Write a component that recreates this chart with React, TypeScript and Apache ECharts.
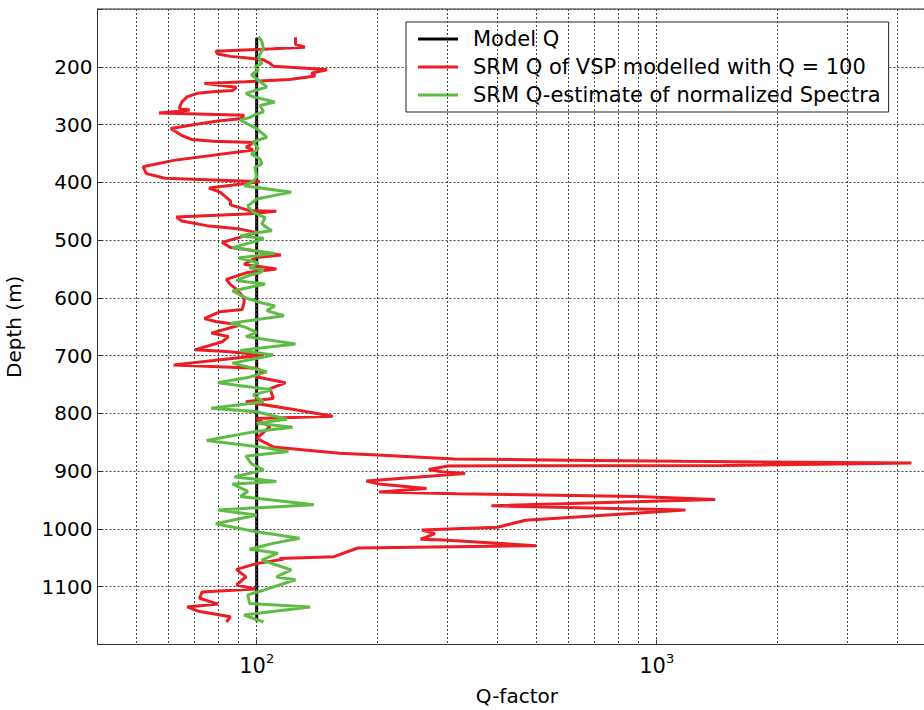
import React, { useEffect, useRef } from "react";
import * as echarts from "echarts";

const FONT = "DejaVu Sans";

const seriesNames = [
  "Model Q",
  "SRM Q of VSP modelled with Q = 100",
  "SRM Q-estimate of normalized Spectra",
];

const modelQ = [100, 100];
const modelDepth = [150, 1160];

const redQ = [
  125, 125, 132, 110, 79, 80, 86, 95, 104, 108,
  110, 136, 150, 137, 140, 121, 94, 74, 86, 89,
  87, 79, 71, 67, 65, 64, 68, 64, 57, 93,
  91, 80, 70, 61, 63, 65, 69, 78, 98, 96,
  94, 98, 62, 52, 53, 59, 102, 76, 81, 86,
  86, 96, 112, 94, 63, 65, 75, 91, 100, 82,
  86, 93, 115, 100, 93, 112, 95, 84, 86, 89,
  93, 93, 92, 81, 74, 79, 91, 77, 85, 82,
  70, 84, 104, 62, 100, 104, 99, 118, 108, 110,
  94, 126, 155, 100, 108, 100, 110, 161, 200, 312,
  604, 1150, 4335, 1469, 301, 269, 290, 332, 188, 202,
  266, 202, 316, 895, 1400, 386, 1180, 470, 400, 259,
  279, 257, 293, 500, 179, 156, 114, 117, 100, 89,
  94, 89, 99, 73, 72, 80, 67, 72, 86, 84,
];
const redDepth = [
  149, 161, 166, 169, 173, 178, 182, 185, 188, 194,
  199, 203, 205, 211, 216, 222, 226, 229, 234, 236,
  241, 243, 246, 252, 261, 272, 275, 277, 280, 284,
  290, 294, 300, 307, 313, 319, 326, 329, 331, 336,
  339, 344, 362, 373, 385, 393, 399, 410, 417, 432,
  439, 449, 450, 455, 460, 467, 475, 481, 487, 504,
  513, 516, 526, 530, 542, 550, 556, 568, 577, 585,
  600, 608, 620, 624, 636, 641, 647, 661, 667, 676,
  690, 693, 699, 716, 722, 728, 736, 747, 757, 774,
  780, 794, 805, 809, 823, 843, 858, 869, 872, 879,
  881, 883, 886, 890, 891, 897, 901, 904, 917, 922,
  930, 936, 939, 944, 949, 960, 967, 985, 997, 1002,
  1008, 1018, 1019, 1029, 1033, 1048, 1051, 1052, 1060, 1070,
  1083, 1097, 1104, 1109, 1120, 1130, 1135, 1143, 1152, 1161,
];

const greenQ = [
  101, 103, 104, 101, 103, 99, 101, 97, 101, 106,
  94, 98, 111, 102, 104, 99, 96, 91, 95, 100,
  106, 98, 101, 97, 102, 103, 99, 100, 98, 93,
  122, 100, 95, 98, 105, 103, 109, 98, 91, 104,
  101, 87, 111, 90, 101, 96, 104, 102, 95, 89,
  105, 87, 94, 102, 111, 106, 117, 86, 94, 100,
  94, 125, 91, 110, 87, 106, 95, 80, 109, 98,
  104, 77, 100, 119, 100, 123, 98, 75, 102, 120,
  94, 97, 104, 88, 112, 87, 95, 91, 139, 80,
  100, 79, 100, 128, 110, 96, 113, 103, 122, 112,
  125, 104, 95, 96, 136, 93, 100, 104,
];
const greenDepth = [
  148, 156, 168, 183, 194, 200, 206, 214, 223, 235,
  246, 252, 261, 267, 278, 283, 288, 292, 299, 307,
  322, 330, 342, 351, 360, 368, 374, 391, 398, 406,
  417, 429, 441, 452, 461, 472, 484, 488, 493, 497,
  501, 513, 523, 531, 539, 548, 552, 556, 562, 570,
  576, 588, 600, 608, 614, 622, 631, 644, 651, 660,
  667, 680, 691, 699, 713, 728, 738, 747, 759, 768,
  780, 791, 797, 810, 817, 824, 832, 847, 858, 866,
  874, 887, 898, 910, 918, 922, 935, 944, 958, 967,
  976, 991, 1005, 1016, 1025, 1035, 1042, 1054, 1071, 1083,
  1088, 1106, 1114, 1129, 1135, 1149, 1157, 1161,
];

const gridQ = [50, 60, 70, 80, 90, 100, 200, 300, 400, 500, 600, 700, 800, 900, 1000, 2000, 3000, 4000];
const qMin = 40;
const qMax = 5000;
const depthMin = 100;
const depthMax = 1200;
const depthStep = 100;

const zip = (q: number[], d: number[]) => q.map((v, i) => [v, d[i]]);

export default function App() {
  const ref = useRef<HTMLDivElement>(null);
  useEffect(() => {
    if (!ref.current) return;
    const chart = echarts.init(ref.current, null, { renderer: "svg" });
    const dotted = { type: [2, 2] as number[], color: "#444", width: 1 };
    chart.setOption({
      animation: false,
      backgroundColor: "#fff",
      grid: {
        left: 97.5,
        top: 9,
        width: 838.8,
        height: 635.5,
        containLabel: false,
        outerBoundsMode: "none",
        show: true,
        borderColor: "#333",
        borderWidth: 1,
        backgroundColor: "transparent",
      },
      legend: {
        data: seriesNames,
        orient: "vertical",
        left: 406,
        top: 22,
        backgroundColor: "#fff",
        borderColor: "#222",
        borderWidth: 1,
        borderRadius: 0,
        padding: [3, 8, 3, 12],
        icon: "rect",
        itemWidth: 40,
        itemHeight: 3,
        itemGap: 0,
        textStyle: { fontSize: 21, fontFamily: FONT, color: "#000", lineHeight: 28, padding: [0, 0, 0, 10] },
      },
      xAxis: {
        type: "log",
        logBase: 10,
        min: qMin,
        max: qMax,
        name: "Q-factor",
        nameLocation: "middle",
        nameGap: 41,
        nameTextStyle: { fontSize: 20, fontFamily: FONT, color: "#000" },
        axisLine: { show: true, lineStyle: { color: "#333", width: 1 } },
        axisTick: { show: true, inside: true, length: 5, lineStyle: { color: "#333" } },
        splitLine: { show: false },
        axisLabel: {
          margin: 7,
          formatter: (v: number) => {
            const l = Math.log10(v);
            if (Math.abs(l - Math.round(l)) < 1e-6) return `{b|10}{s|${Math.round(l)}}`;
            return "";
          },
          rich: {
            b: { fontSize: 21, fontFamily: FONT, color: "#000", lineHeight: 21, padding: [8, 0, 0, 0] },
            s: { fontSize: 13, fontFamily: FONT, color: "#000", lineHeight: 13, verticalAlign: "top" },
          },
        },
      },
      yAxis: {
        type: "value",
        inverse: true,
        min: depthMin,
        max: depthMax,
        interval: depthStep,
        name: "Depth (m)",
        nameLocation: "middle",
        nameGap: 74,
        nameTextStyle: { fontSize: 20, fontFamily: FONT, color: "#000" },
        axisLine: { show: true, lineStyle: { color: "#333", width: 1 } },
        axisTick: { show: true, inside: true, length: 5, lineStyle: { color: "#333" } },
        splitLine: { show: true, lineStyle: dotted },
        axisLabel: {
          margin: 5,
          fontSize: 20,
          fontFamily: FONT,
          color: "#000",
          formatter: (v: number) => (v === depthMin || v === depthMax ? "" : String(v)),
        },
      },
      series: [
        {
          name: "grid",
          type: "line",
          data: [[qMin, depthMin]],
          symbol: "none",
          lineStyle: { opacity: 0 },
          silent: true,
          z: 1,
          markLine: {
            silent: true,
            symbol: ["none", "none"],
            label: { show: false },
            lineStyle: dotted,
            data: gridQ.map((v) => ({ xAxis: v })),
          },
        },
        {
          name: seriesNames[0],
          type: "line",
          data: zip(modelQ, modelDepth),
          symbol: "none",
          lineStyle: { color: "#000", width: 3 },
          itemStyle: { color: "#000" },
          z: 3,
        },
        {
          name: seriesNames[1],
          type: "line",
          data: zip(redQ, redDepth),
          symbol: "none",
          lineStyle: { color: "#ee1c24", width: 3 },
          itemStyle: { color: "#ee1c24" },
          z: 4,
        },
        {
          name: seriesNames[2],
          type: "line",
          data: zip(greenQ, greenDepth),
          symbol: "none",
          lineStyle: { color: "#5dbb46", width: 3 },
          itemStyle: { color: "#5dbb46" },
          z: 5,
        },
      ],
    });
    return () => chart.dispose();
  }, []);
  return <div ref={ref} style={{ position: "fixed", left: 0, top: 0, width: 924, height: 710 }} />;
}
